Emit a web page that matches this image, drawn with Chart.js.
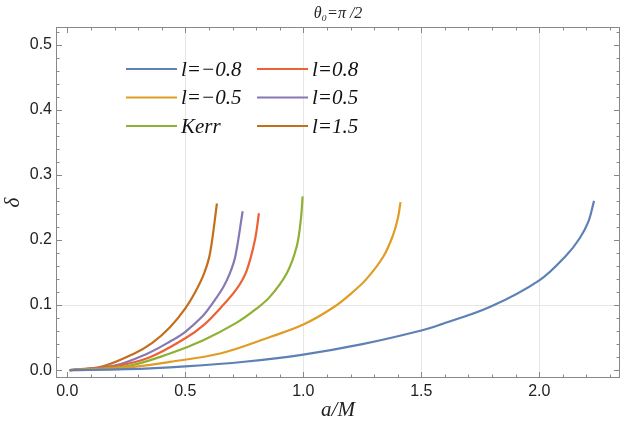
<!DOCTYPE html>
<html>
<head>
<meta charset="utf-8">
<script src="https://cdn.jsdelivr.net/npm/chart.js@4.4.0/dist/chart.umd.min.js"></script>
<style>
    html, body { margin: 0; padding: 0; background: #fff; }
    #wrap { width: 623px; height: 432px; }
</style>
</head>
<body>
<div id="wrap"><canvas id="deltaChart" width="623" height="432"></canvas></div>
<script>
// series
const seriesLabels = ['l=\u22120.8', 'l=\u22120.5', 'Kerr', 'l=0.8', 'l=0.5', 'l=1.5'];
const seriesColors = ['#5e81b5', '#e19c24', '#8fb032', '#eb6235', '#8778b3', '#c56e1a'];

const aLm08 = [0.01, 0.25, 0.5, 0.75, 1.0, 1.25, 1.5, 1.58, 1.79, 2.0, 2.116, 2.172, 2.208, 2.232];
const dLm08 = [0, 0.0015, 0.006, 0.013, 0.024, 0.04, 0.061, 0.07, 0.097, 0.138, 0.177, 0.203, 0.228, 0.26];

const aLm05 = [0.01, 0.25, 0.435, 0.647, 0.859, 1.0, 1.13, 1.21, 1.27, 1.34, 1.38, 1.40, 1.412];
const dLm05 = [0, 0.004, 0.0128, 0.0256, 0.051, 0.07, 0.097, 0.12, 0.141, 0.175, 0.207, 0.232, 0.258];

const aKerr = [0.01, 0.25, 0.435, 0.576, 0.718, 0.8, 0.859, 0.93, 0.972, 0.99, 0.997];
const dKerr = [0, 0.006, 0.0256, 0.046, 0.073, 0.094, 0.113, 0.149, 0.19, 0.233, 0.267];

const aL08 = [0.01, 0.2, 0.35, 0.5, 0.58, 0.66, 0.72, 0.76, 0.795, 0.812];
const dL08 = [0, 0.006, 0.02, 0.049, 0.07, 0.1, 0.126, 0.153, 0.2, 0.241];

const aL05 = [0.01, 0.2, 0.336, 0.435, 0.5, 0.576, 0.61, 0.66, 0.689, 0.712, 0.743];
const dL05 = [0, 0.007, 0.025, 0.044, 0.059, 0.084, 0.1, 0.127, 0.149, 0.175, 0.244];

const aL15 = [0.01, 0.15, 0.28, 0.36, 0.435, 0.5, 0.545, 0.58, 0.605, 0.634];
const dL15 = [0, 0.006, 0.025, 0.042, 0.066, 0.095, 0.122, 0.149, 0.18, 0.256];

const xTicksMajor = [0, 0.5, 1.0, 1.5, 2.0];
const yTicksMajor = [0, 0.1, 0.2, 0.3, 0.4, 0.5];
const xGridLines = [0.5, 1.0, 1.5, 2.0];
const yGridLines = [0.1];

const xs = [aLm08, aLm05, aKerr, aL08, aL05, aL15];
const ys = [dLm08, dLm05, dKerr, dL08, dL05, dL15];

const near = (v, list) => list.some(t => Math.abs(t - v) < 1e-6);

const serif = '"Liberation Serif", "Times New Roman", Times, serif';
const sans = '"Liberation Sans", Arial, sans-serif';

const whiteBg = {
    id: 'whiteBg',
    beforeDraw(chart) {
        const { ctx, width, height } = chart;
        ctx.save();
        ctx.fillStyle = '#fff';
        ctx.fillRect(0, 0, width, height);
        ctx.restore();
    }
};

// frame with inward ticks on all four sides
const framePlugin = {
    id: 'frame',
    afterDatasetsDraw(chart) {
        const { ctx, chartArea: ca, scales } = chart;
        ctx.save();
        ctx.strokeStyle = '#888';
        ctx.lineWidth = 1;
        scales.x.ticks.forEach(t => {
            const px = Math.round(scales.x.getPixelForValue(t.value)) + 0.5;
            const len = near(t.value, xTicksMajor) ? 6 : 3.5;
            ctx.beginPath();
            ctx.moveTo(px, ca.bottom); ctx.lineTo(px, ca.bottom - len);
            ctx.moveTo(px, ca.top); ctx.lineTo(px, ca.top + len);
            ctx.stroke();
        });
        scales.y.ticks.forEach(t => {
            const py = Math.round(scales.y.getPixelForValue(t.value)) + 0.5;
            const len = near(t.value, yTicksMajor) ? 6 : 3.5;
            ctx.beginPath();
            ctx.moveTo(ca.left, py); ctx.lineTo(ca.left + len, py);
            ctx.moveTo(ca.right, py); ctx.lineTo(ca.right - len, py);
            ctx.stroke();
        });
        ctx.strokeRect(ca.left + 0.5, ca.top + 0.5, ca.right - ca.left - 1, ca.bottom - ca.top - 1);
        ctx.restore();
    }
};

// two-column legend inside the plot
const legendPlugin = {
    id: 'innerLegend',
    afterDatasetsDraw(chart) {
        const { ctx } = chart;
        const cols = [126, 257];
        const rows = [69, 97.5, 126];
        ctx.save();
        ctx.font = 'italic 21px ' + serif;
        ctx.textBaseline = 'middle';
        chart.data.datasets.forEach((ds, i) => {
            const x = cols[Math.floor(i / 3)];
            const y = rows[i % 3];
            ctx.strokeStyle = ds.borderColor;
            ctx.lineWidth = 2.2;
            ctx.beginPath();
            ctx.moveTo(x, y); ctx.lineTo(x + 51, y);
            ctx.stroke();
            ctx.fillStyle = '#111';
            ctx.fillText(ds.label, x + 55, y + 1);
        });
        ctx.restore();
    }
};

// title θ0=π/2 centred over the plot
const titlePlugin = {
    id: 'plotTitle',
    afterDraw(chart) {
        const { ctx, chartArea: ca } = chart;
        ctx.save();
        ctx.fillStyle = '#222';
        ctx.textBaseline = 'alphabetic';
        ctx.textAlign = 'center';
        ctx.font = 'italic 16px ' + serif;
        ctx.fillText('\u03b8\u2080=\u03c0 /2', (ca.left + ca.right) / 2, 18);
        ctx.restore();
    }
};

const datasets = seriesLabels.map((label, i) => ({
    label: label,
    data: xs[i].map((a, j) => ({ x: a, y: ys[i][j] })),
    borderColor: seriesColors[i],
    backgroundColor: seriesColors[i],
    borderWidth: 2.2,
    pointRadius: 0,
    fill: false,
    tension: 0.35
}));

const chart = new Chart(document.getElementById('deltaChart'), {
    type: 'line',
    data: { datasets: datasets },
    plugins: [whiteBg, framePlugin, legendPlugin, titlePlugin],
    options: {
        responsive: false,
        animation: false,
        devicePixelRatio: 1,
        layout: { padding: { top: 27, right: 3, left: 0, bottom: 0 } },
        plugins: {
            legend: { display: false },
            tooltip: { enabled: false },
            title: { display: false }
        },
        scales: {
            x: {
                type: 'linear',
                min: -0.048,
                max: 2.342,
                afterFit: (scale) => { scale.height = 54; },
                border: { display: false },
                grid: {
                    drawTicks: false,
                    color: (c) => c.tick && near(c.tick.value, xGridLines) ? '#e6e6e6' : 'rgba(0,0,0,0)'
                },
                ticks: {
                    stepSize: 0.1,
                    includeBounds: false,
                    autoSkip: false,
                    maxRotation: 0,
                    padding: 4,
                    color: '#222',
                    font: { family: sans, size: 16 },
                    callback: (v) => near(v, xTicksMajor) ? v.toFixed(1) : ''
                },
                title: {
                    display: true,
                    text: 'a/M',
                    color: '#222',
                    font: { family: serif, size: 21, style: 'italic' },
                    padding: { top: 0, bottom: 9 }
                }
            },
            y: {
                type: 'linear',
                min: -0.012,
                max: 0.527,
                afterFit: (scale) => { scale.width = 56; },
                border: { display: false },
                grid: {
                    drawTicks: false,
                    color: (c) => c.tick && near(c.tick.value, yGridLines) ? '#e6e6e6' : 'rgba(0,0,0,0)'
                },
                ticks: {
                    stepSize: 0.02,
                    includeBounds: false,
                    autoSkip: false,
                    padding: 4,
                    color: '#222',
                    font: { family: sans, size: 16 },
                    callback: (v) => near(v, yTicksMajor) ? v.toFixed(1) : ''
                },
                title: {
                    display: true,
                    text: '\u03b4',
                    color: '#222',
                    font: { family: serif, size: 21, style: 'italic' },
                    padding: { top: 1, bottom: 0 }
                }
            }
        }
    }
});
</script>
</body>
</html>
